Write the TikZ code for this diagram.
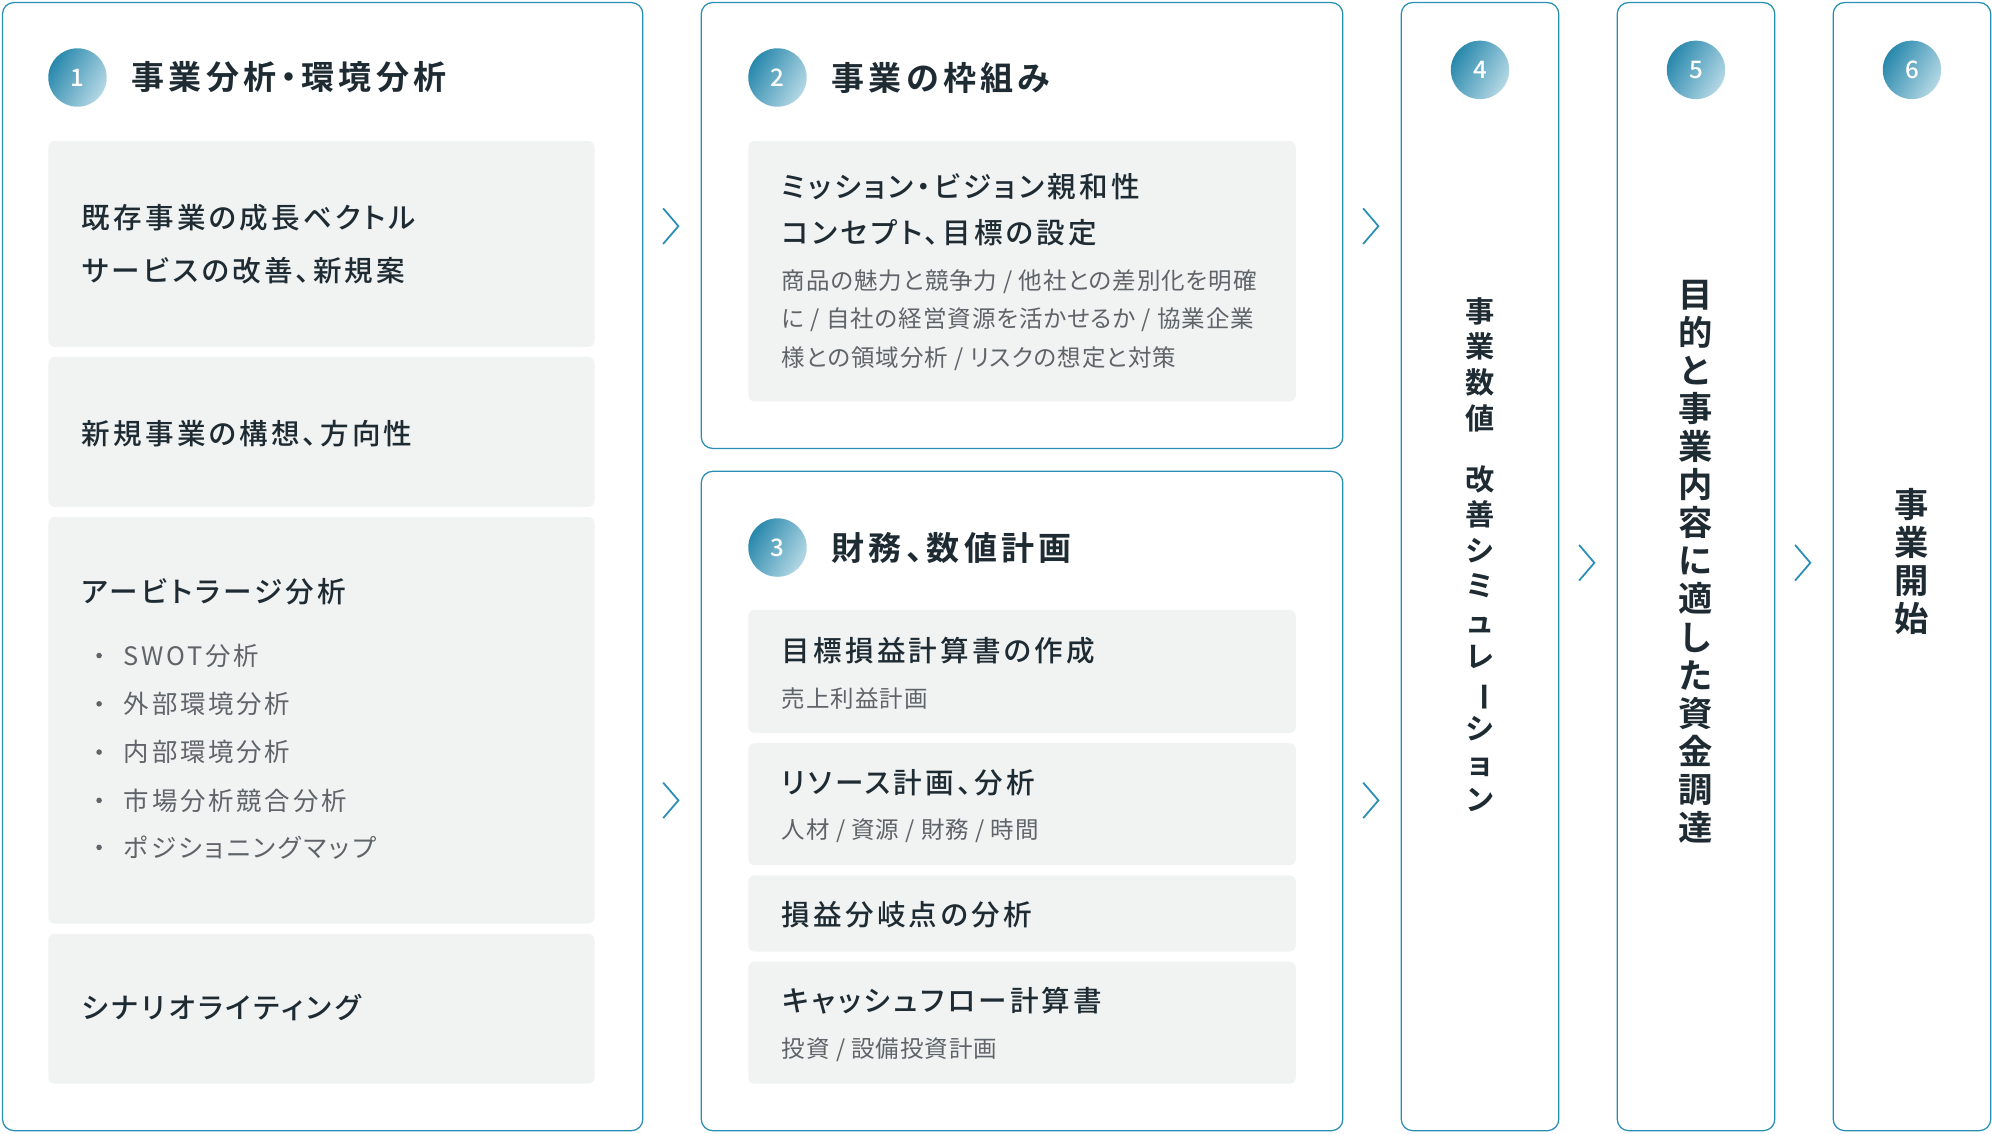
\documentclass[tikz,border=0pt]{standalone}
\usepackage{fontspec}
\setmainfont[RawFeature=+palt,BoldFont={Noto Sans CJK JP Bold}]{Noto Sans CJK JP}
\newfontfamily\medf[RawFeature=+palt,LetterSpace=11]{Noto Sans CJK JP Medium}
\newfontfamily\ttlf[RawFeature=+palt,LetterSpace=13]{Noto Sans CJK JP Bold}
\newfontfamily\subf[RawFeature=+palt,LetterSpace=4]{Noto Sans CJK JP}
\newfontfamily\bulf[RawFeature=+palt,LetterSpace=11]{Noto Sans CJK JP}
\newfontfamily\numf{Noto Sans CJK JP Medium}
\newfontfamily\vfont{Noto Sans CJK JP Bold}
\definecolor{bd}{HTML}{2A8FB5}
\definecolor{gbox}{HTML}{F1F3F3}
\definecolor{txt}{HTML}{1E2B33}
\definecolor{sub}{HTML}{5F6468}
\tikzset{
 panel/.style={draw=bd,line width=1pt,rounded corners=9pt,fill=white},
 gb/.style={fill=gbox,rounded corners=5pt},
 num/.style={circle,minimum size=46pt,inner sep=0pt,shading=axis,left color=bd!95!black,right color=bd!35!white,shading angle=60,text=white,font=\numf\fontsize{19}{19}\selectfont},
 ttl/.style={anchor=west,text=txt,font=\ttlf\fontsize{26}{26}\selectfont},
 mt/.style={anchor=west,text=txt,font=\medf\fontsize{22.5}{22.5}\selectfont},
 st/.style={anchor=west,text=sub,font=\subf\fontsize{18.5}{18.5}\selectfont},
 vt/.style={align=center,text=txt,inner sep=0pt},
 chev/.style={draw=bd,line width=1.4pt}
}
\begin{document}
\begin{tikzpicture}[x=1pt,y=-1pt]
\useasboundingbox (0,0) rectangle (1568,892);
% panels
\draw[panel] (2,2) rectangle (506,890);
\draw[panel] (552,2) rectangle (1057,353);
\draw[panel] (552,371) rectangle (1057,890);
\draw[panel] (1103,2) rectangle (1227,890);
\draw[panel] (1273,2) rectangle (1397,890);
\draw[panel] (1443,2) rectangle (1567,890);
% panel 1
\node[num] (n1) at (61,61) {1};
\node[ttl] (t1) at (100,61) {事業分析・環境分析};
\fill[gb] (38,111) rectangle (468,273);
\fill[gb] (38,281) rectangle (468,399);
\fill[gb] (38,407) rectangle (468,727);
\fill[gb] (38,735) rectangle (468,853);
\node[mt] (a1) at (61,171) {既存事業の成長ベクトル};
\node[mt] (a2) at (61,213) {サービスの改善、新規案};
\node[mt] (a3) at (61,341) {新規事業の構想、方向性};
\node[mt] (a4) at (61,466) {アービトラージ分析};
\foreach \y/\t [count=\i] in {516/SWOT分析,554/外部環境分析,592/内部環境分析,630/市場分析競合分析,667/ポジショニングマップ}{
 \fill[sub] (78,\y) circle (2.2pt);
 \node[st,font=\bulf\fontsize{20}{20}\selectfont] (b\i) at (94,\y) {\t};
}
\node[mt] (a5) at (61,793) {シナリオライティング};
% panel 2
\node[num] (n2) at (612,61) {2};
\node[ttl] (t2) at (651,61) {事業の枠組み};
\fill[gb] (589,111) rectangle (1020,316);
\node[mt] (c1) at (612,147) {ミッション・ビジョン親和性};
\node[mt] (c2) at (612,183) {コンセプト、目標の設定};
\node[st] (c3) at (612,222) {商品の魅力と競争力 / 他社との差別化を明確};
\node[st] (c4) at (612,252) {に / 自社の経営資源を活かせるか / 協業企業};
\node[st] (c5) at (612,282) {様との領域分析 / リスクの想定と対策};
% panel 3
\node[num] (n3) at (612,431) {3};
\node[ttl] (t3) at (651,431) {財務、数値計画};
\fill[gb] (589,480) rectangle (1020,577);
\fill[gb] (589,585) rectangle (1020,681);
\fill[gb] (589,689) rectangle (1020,749);
\fill[gb] (589,757) rectangle (1020,853);
\node[mt] (d1) at (612,512) {目標損益計算書の作成};
\node[st] (d2) at (612,550) {売上利益計画};
\node[mt] (d3) at (612,616) {リソース計画、分析};
\node[st] (d4) at (612,654) {人材 / 資源 / 財務 / 時間};
\node[mt] (d5) at (612,720) {損益分岐点の分析};
\node[mt] (d6) at (612,788) {キャッシュフロー計算書};
\node[st] (d7) at (612,826) {投資 / 設備投資計画};
% panels 4-6
\node[num] (n4) at (1165,55) {4};
\node[num] (n5) at (1335,55) {5};
\node[num] (n6) at (1505,55) {6};
\node[vt,anchor=north,font=\vfont\fontsize{23}{28}\selectfont] (v4) at (1165,234)
 {事\\業\\数\\値\\[-8pt]\mbox{}\\改\\善\\シ\\ミ\\ュ\\レ\\\rotatebox[origin=c]{-90}{ー}\\シ\\ョ\\ン};
\node[vt,anchor=north,font=\vfont\fontsize{27}{30}\selectfont] (v5) at (1335,220)
 {目\\的\\と\\事\\業\\内\\容\\に\\適\\し\\た\\資\\金\\調\\達};
\node[vt,anchor=north,font=\vfont\fontsize{27}{30}\selectfont] (v6) at (1505,384)
 {事\\業\\開\\始};
% chevrons
\foreach \x/\y [count=\i] in {522/178,522/630,1073/178,1073/630,1243/443,1413/443}{
 \coordinate (p\i) at (\x,\y-14);
 \coordinate (q\i) at (\x+12,\y);
 \coordinate (r\i) at (\x,\y+14);
 \draw[chev] (p\i) -- (q\i) -- (r\i);
}
\end{tikzpicture}
\end{document}
